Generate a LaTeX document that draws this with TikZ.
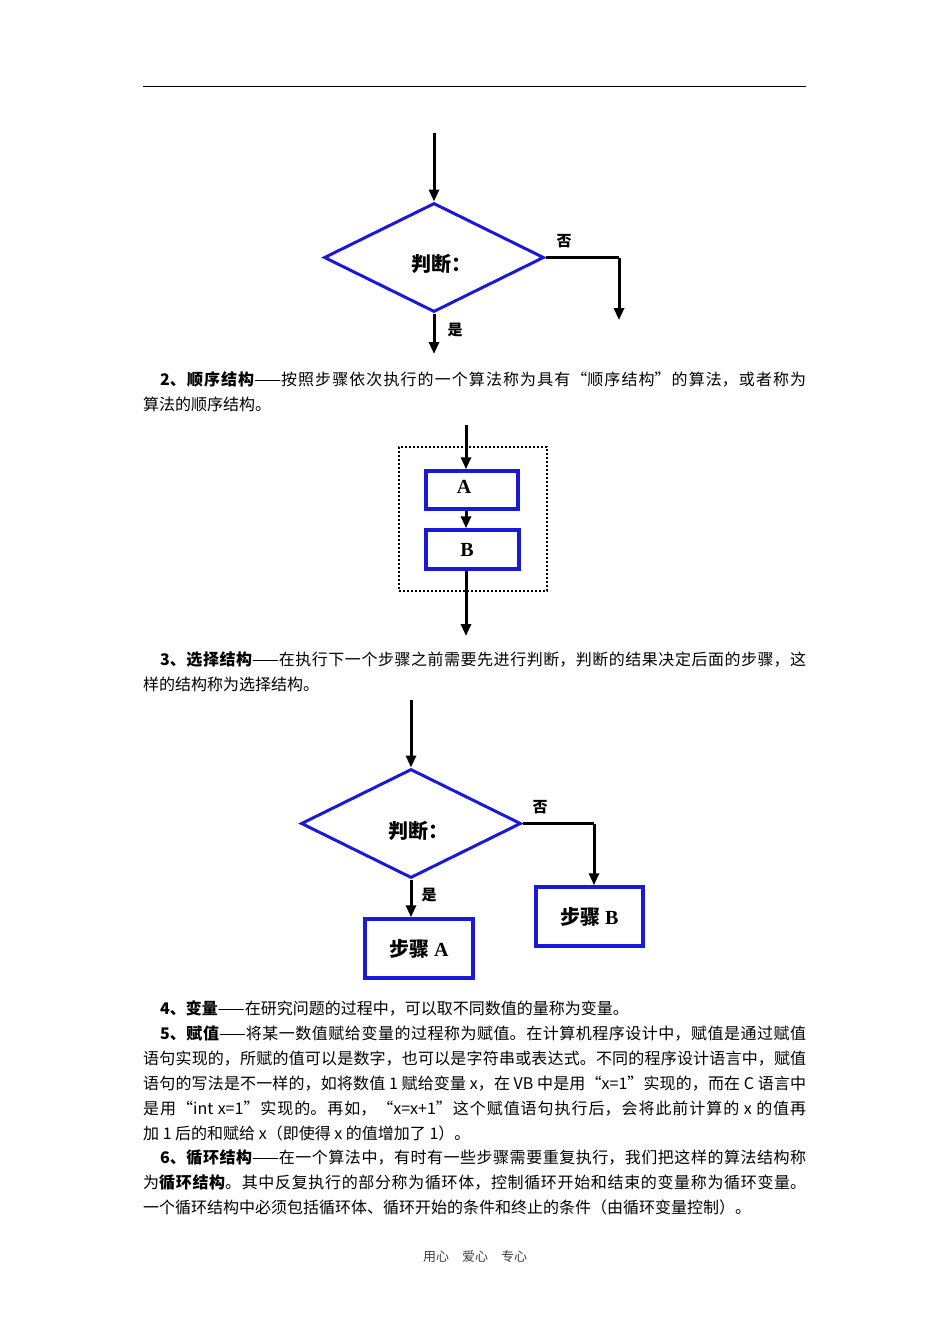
\documentclass[tikz,border=0pt]{standalone}
\usepackage{fontspec}
\setmainfont{Noto Sans CJK SC}
\newfontfamily\latinserif{Liberation Serif}
\XeTeXlinebreaklocale "zh"
\XeTeXlinebreakskip=0pt plus 2pt minus 0.3pt
\usetikzlibrary{shapes.geometric,arrows.meta}
\definecolor{myblue}{RGB}{25,25,215}
\begin{document}
\begin{tikzpicture}[x=1pt,y=-1pt,
  arr/.style={line width=3pt,-{Triangle[length=12pt,width=10pt]}},
  ln/.style={line width=3pt},
  dia/.style={draw=myblue,line width=3pt,shape=diamond,inner sep=0pt,minimum width=220pt,minimum height=109pt},
  dtxt/.style={font=\fontsize{20}{24}\selectfont\bfseries,inner sep=0pt,anchor=base west},
  stepbox/.style={draw=myblue,line width=3.5pt,inner sep=0pt,font=\fontsize{20}{24}\selectfont\bfseries},
  lab/.style={font=\fontsize{15}{18}\selectfont\bfseries,inner sep=0pt},
  para/.style={anchor=base west,inner sep=0pt,text width=663pt,align=justify,font=\fontsize{16}{25}\selectfont}]
\useasboundingbox (0,0) rectangle (950,1344);
% header rule
\coordinate (hl) at (143,86);
\coordinate (hr) at (806,86);
\draw[line width=1pt] (hl) -- (hr);

% ---------- diagram 1 ----------
\node[dia] (d1) at (434,257.5) {};
\node[dtxt] (d1t) at (411,271) {判断：};
\coordinate (d1in) at (434,133);
\coordinate (d1yes) at (434,354);
\coordinate (d1c) at (619,257.5);
\coordinate (d1no) at (619,320);
\draw[arr] (d1in) -- (d1.north);
\draw[arr] (d1.south) -- (d1yes);
\draw[ln] (d1.east) -- (d1c);
\draw[arr] (d1c) -- (d1no);
\node[lab] (d1n) at (564,241) {否};
\node[lab] (d1y) at (455,330) {是};

% ---------- paragraph 2 ----------
\node[para] (p2) at (143,385) {\hspace*{17pt}\textbf{2、顺序结构}——按照步骤依次执行的一个算法称为具有“顺序结构”的算法，或者称为\linebreak 算法的顺序结构。};

% ---------- diagram 2 ----------
\node[draw,dotted,line width=2pt,minimum width=148pt,minimum height=144pt,inner sep=0pt] (frame) at (473,519) {};
\node[stepbox,minimum width=92pt,minimum height=38pt] (A) at (472,490) {};
\node[stepbox,minimum width=93pt,minimum height=39pt] (B) at (472.5,549.5) {};
\node[font=\fontsize{20}{24}\selectfont\bfseries\latinserif,inner sep=0pt] (At) at (464,487) {A};
\node[font=\fontsize{20}{24}\selectfont\bfseries\latinserif,inner sep=0pt] (Bt) at (467,550) {B};
\coordinate (s2in) at (466,425);
\coordinate (s2out) at (466,636);
\draw[arr] (s2in) -- (s2in |- A.north);
\draw[arr] (s2in |- A.south) -- (s2in |- B.north);
\draw[arr] (s2in |- B.south) -- (s2out);

% ---------- paragraph 3 ----------
\node[para] (p3) at (143,665) {\hspace*{17pt}\textbf{3、选择结构}——在执行下一个步骤之前需要先进行判断，判断的结果决定后面的步骤，这\linebreak 样的结构称为选择结构。};

% ---------- diagram 3 ----------
\node[dia] (d2) at (411,823.5) {};
\node[dtxt] (d2t) at (388,838) {判断：};
\coordinate (d2in) at (411,700);
\coordinate (d2c) at (594,823.5);
\node[stepbox,minimum width=108pt,minimum height=59pt] (sa) at (419,948.5) {步骤 {\latinserif A}};
\node[stepbox,minimum width=107pt,minimum height=59pt] (sb) at (589.5,916.5) {步骤 {\latinserif B}};
\draw[arr] (d2in) -- (d2.north);
\draw[arr] (d2.south) -- (d2.south |- sa.north);
\draw[ln] (d2.east) -- (d2c);
\draw[arr] (d2c) -- (d2c |- sb.north);
\node[lab] (d2n) at (540,807) {否};
\node[lab] (d2y) at (429,895) {是};

% ---------- paragraphs 4-6 ----------
\node[para] (p4) at (143,1014) {\hspace*{17pt}\textbf{4、变量}——在研究问题的过程中，可以取不同数值的量称为变量。};
\node[para] (p5) at (143,1039) {\hspace*{17pt}\textbf{5、赋值}——将某一数值赋给变量的过程称为赋值。在计算机程序设计中，赋值是通过赋值\linebreak 语句实现的，所赋的值可以是数字，也可以是字符串或表达式。不同的程序设计语言中，赋值\linebreak 语句的写法是不一样的，如将数值 1 赋给变量 x，在 VB 中是用“x=1”实现的，而在 C 语言中\linebreak 是用“int x=1”实现的。再如，“x=x+1”这个赋值语句执行后，会将此前计算的 x 的值再\linebreak 加 1 后的和赋给 x（即使得 x 的值增加了 1）。};
\node[para] (p6) at (143,1163) {\hspace*{17pt}\textbf{6、循环结构}——在一个算法中，有时有一些步骤需要重复执行，我们把这样的算法结构称\linebreak 为\textbf{循环结构}。其中反复执行的部分称为循环体，控制循环开始和结束的变量称为循环变量。\linebreak 一个循环结构中必须包括循环体、循环开始的条件和终止的条件（由循环变量控制）。};

% footer
\node[font=\fontsize{13}{15}\selectfont,text=black!75,inner sep=0pt] (foot) at (475,1257) {用心\quad 爱心\quad 专心};
\end{tikzpicture}
\end{document}
